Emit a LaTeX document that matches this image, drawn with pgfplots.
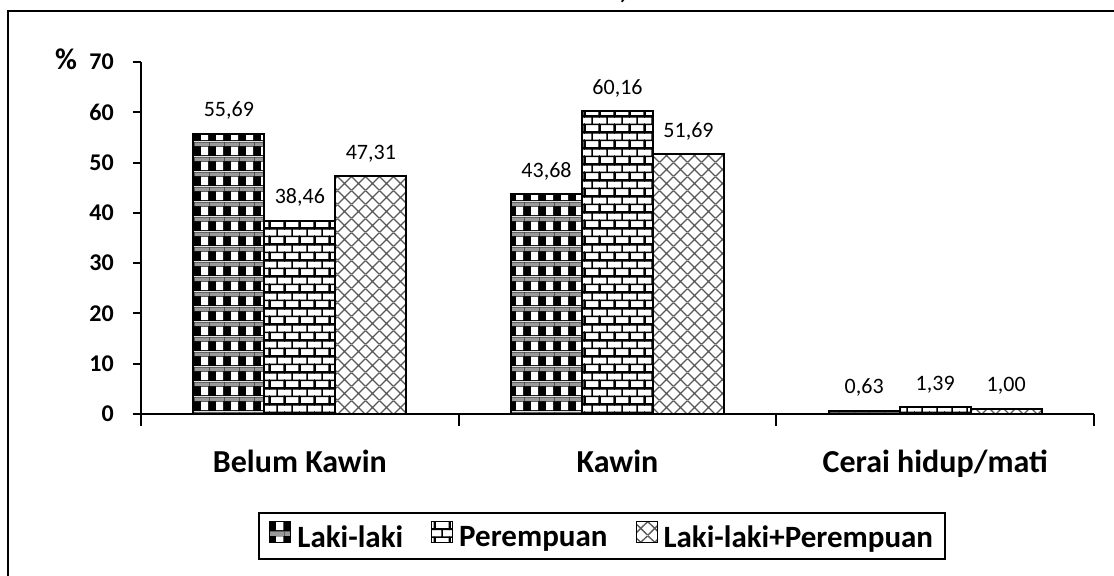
\documentclass[border=0pt]{standalone}
\usepackage{fontspec}
\setmainfont{Carlito}
\usepackage{pgfplots}
\pgfplotsset{compat=1.18}
\usetikzlibrary{patterns.meta}

\tikzdeclarepattern{name=lakiP, type=colored,
  bottom left={(0bp,0bp)}, top right={(15bp,15bp)}, tile size={(15bp,15bp)},
  code={
    \fill[black] (0bp,0bp) rectangle (15bp,15bp);
    \fill[white] (6.5bp,1bp) rectangle (14bp,10bp);
    \fill[black!40] (0bp,10.5bp) rectangle (15bp,14.5bp);
  }}
\tikzdeclarepattern{name=bricksP, type=colored,
  bottom left={(0bp,0bp)}, top right={(15bp,15.6bp)}, tile size={(15bp,15.6bp)},
  code={
    \fill[white] (0bp,0bp) rectangle (15bp,15.6bp);
    \draw[black, line width=1.6bp] (-1bp,0bp)--(16bp,0bp) (-1bp,7.8bp)--(16bp,7.8bp) (-1bp,15.6bp)--(16bp,15.6bp)
      (0bp,0bp)--(0bp,7.8bp) (15bp,0bp)--(15bp,7.8bp) (7.5bp,7.8bp)--(7.5bp,15.6bp);
  }}
\tikzdeclarepattern{name=crossP, type=colored,
  bottom left={(0bp,0bp)}, top right={(13.5bp,13.5bp)}, tile size={(13.5bp,13.5bp)},
  code={
    \fill[white] (0bp,0bp) rectangle (13.5bp,13.5bp);
    \draw[black!65, line width=1.4bp] (-1bp,-1bp)--(14.5bp,14.5bp) (-1bp,14.5bp)--(14.5bp,-1bp);
  }}

\begin{document}
\begin{tikzpicture}
\path[use as bounding box] (0bp,0bp) rectangle (1114bp,-576bp);
\draw[line width=2bp] (7.5bp,-11bp) rectangle (1130bp,-600bp);
\begin{axis}[
  at={(141bp,-414bp)}, anchor=south west,
  scale only axis, width=953bp, height=352bp,
  xmin=-0.5, xmax=2.5, ymin=0, ymax=70,
  axis x line*=bottom, axis y line*=left,
  axis line style={line width=2bp, black, -},
  ybar=0pt, bar width=71bp,
  /pgf/number format/assume math mode=true,
  ytick={0,10,...,70},
  tick align=outside, major tick length=8bp, minor tick length=12bp,
  tick style={line width=2bp, black},
  xtick={0,1,2}, xticklabels={Belum Kawin, Kawin, Cerai hidup/mati},
  major x tick style={draw=none},
  minor xtick={-0.5,0.5,1.5,2.5},
  yticklabel style={font=\fontsize{24bp}{28bp}\selectfont\bfseries, inner sep=0pt, xshift=-19bp},
  xticklabel style={font=\fontsize{32bp}{38bp}\selectfont\bfseries, anchor=base, yshift=-50bp},
  ylabel={\%},
  ylabel style={rotate=-90, at={(-0.0787,1.0085)}, anchor=center, font=\fontsize{30bp}{34bp}\selectfont\bfseries},
  title={Perkawinan, 2010},
  title style={at={(0.4606,1.1648)}, anchor=base, font=\fontsize{33bp}{40bp}\selectfont\bfseries},
  nodes near coords,
  every node near coord/.append style={font=\fontsize{22bp}{26bp}\selectfont, anchor=base, yshift=17bp, inner sep=0pt, black,
     /pgf/number format/.cd, fixed, fixed zerofill, precision=2, use comma, assume math mode=true},
  legend columns=3,
  legend style={at={(0.484,-0.347)}, anchor=center, draw=black, line width=2bp,
     font=\fontsize{31bp}{37bp}\selectfont\bfseries, inner xsep=10bp, inner ysep=8bp,
     /tikz/every odd column/.append style={column sep=4bp},
     /tikz/every even column/.append style={column sep=26bp}},
  legend image code/.code={\draw[#1, line width=1bp] (0bp,-5bp) rectangle (21bp,16bp);},
]
\addplot[draw=black, line width=2bp, pattern=lakiP] coordinates {(0,55.69) (1,43.68) (2,0.63)};
\addplot[draw=black, line width=2bp, pattern=bricksP] coordinates {(0,38.46) (1,60.16) (2,1.39)};
\addplot[draw=black, line width=2bp, pattern=crossP] coordinates {(0,47.31) (1,51.69) (2,1.00)};
\legend{Laki-laki, Perempuan, Laki-laki+Perempuan}
\end{axis}
\end{tikzpicture}
\end{document}
